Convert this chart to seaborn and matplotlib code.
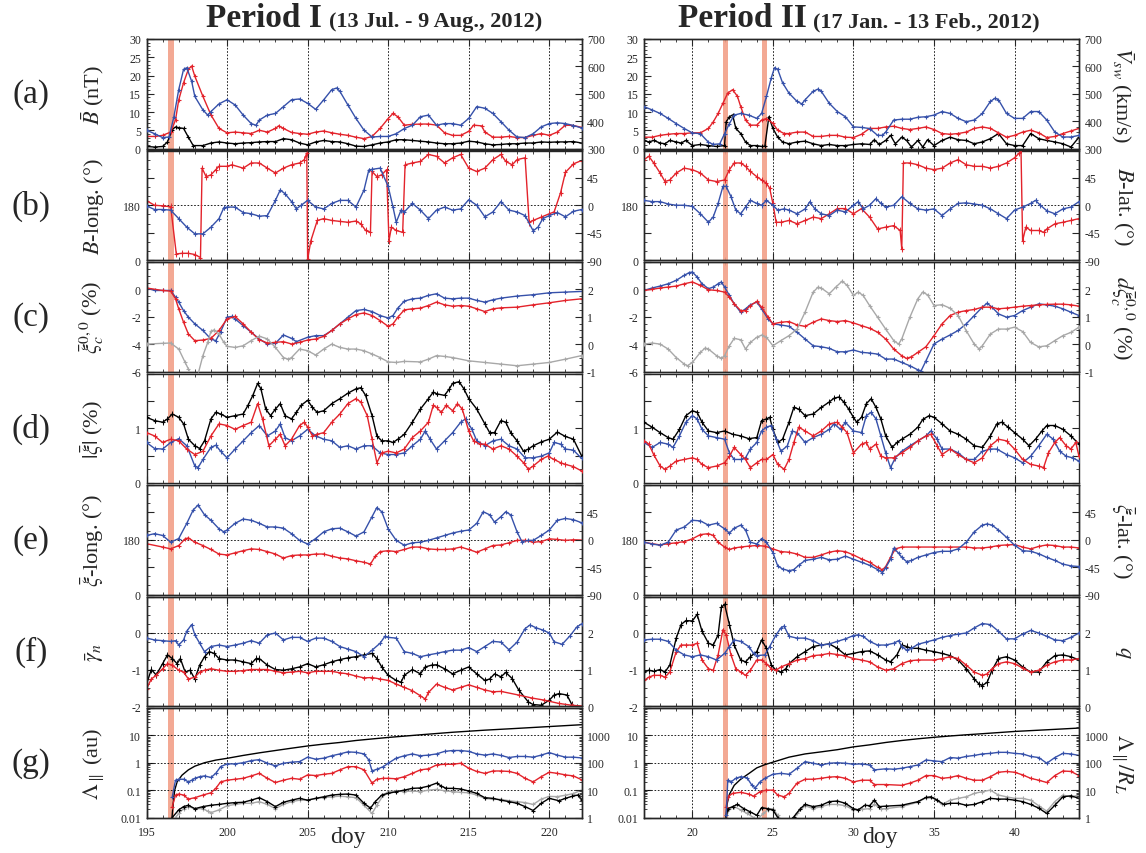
import matplotlib
matplotlib.use("Agg")
import matplotlib.pyplot as plt
import seaborn as sns
from matplotlib.ticker import (MultipleLocator, FixedLocator, FuncFormatter,
                               LogLocator, NullFormatter)

# ===================== DATA : Period I (doy 195-222, 2012) =====================
P1_a_vsw = [(195,367),(195.5,354),(196,340),(196.4,342),(196.7,416),(197,515),(197.3,589),(197.5,595),(197.8,546),(198,490),(198.5,441),(198.8,422),(199,435),(199.5,463),(200,478),(200.5,459),(201,422),(201.5,391),(201.8,385),(202,404),(202.5,422),(203,428),(203.5,453),(204,478),(204.5,481),(205,465),(205.5,443),(206,478),(206.5,515),(206.8,521),(207,509),(207.5,459),(208,410),(208.5,367),(209,342),(209.5,344),(210,344),(210.5,354),(211,373),(211.5,385),(212,416),(212.5,422),(213,385),(213.5,391),(214,391),(214.5,385),(215,410),(215.5,453),(216,447),(216.5,428),(217,398),(217.5,367),(218,342),(218.5,340),(219,354),(219.5,379),(220,391),(220.5,394),(221,391),(221.5,384),(222,375)]
P1_a_B = [(195,3.3),(195.5,3.3),(196,3.6),(196.5,4.5),(196.8,7.8),(197,13.3),(197.3,18),(197.6,21.7),(197.8,22.6),(198,19.8),(198.5,14.3),(199,9.2),(199.5,5.5),(200,4.3),(200.5,4.5),(201,4.3),(201.5,4.1),(202,5.0),(202.5,4.5),(203,5.5),(203.2,6.2),(203.5,5.5),(204,4.4),(204.5,4.1),(205,3.9),(205.5,4.5),(206,4.8),(206.5,4.3),(207,3.9),(207.5,3.6),(208,3.1),(208.5,2.7),(209,3.3),(209.5,5.5),(210,8.2),(210.3,9.6),(210.6,8.7),(211,6.4),(211.5,6.6),(212,6.7),(212.5,6.7),(213,6.4),(213.5,4.3),(214,3.6),(214.5,3.6),(215,4.7),(215.3,6.4),(215.8,6.2),(216,4.5),(216.5,3.1),(217,3.1),(217.5,3.3),(218,3.0),(218.5,3.0),(219,3.6),(219.5,4.1),(220,3.6),(220.5,4.5),(221,6.4),(221.5,6.3),(222,5.8)]
P1_a_dB = [(195,0.55),(195.5,0.4),(196,0.55),(196.3,1.8),(196.6,5.2),(196.8,5.9),(197,5.7),(197.3,5.5),(197.6,3.1),(197.9,0.8),(198.5,0.8),(199,1.5),(199.5,1.8),(200,1.5),(200.5,1.3),(201,1.5),(201.5,1.6),(202,1.8),(202.5,1.9),(203,1.9),(203.5,2.7),(204,2.4),(204.5,1.5),(205,1.0),(205.5,1.8),(206,2.2),(206.5,1.9),(207,1.8),(207.5,1.3),(208,0.65),(208.5,0.55),(209,1.0),(209.5,1.5),(210,1.8),(210.5,2.4),(211,2.4),(211.5,2.2),(212,2.0),(212.5,1.8),(213,1.5),(213.5,1.3),(214,1.3),(214.5,1.5),(215,2.0),(215.5,1.8),(216,1.3),(216.5,1.0),(217,1.1),(217.5,1.3),(218,1.3),(218.5,1.5),(219,1.5),(219.5,1.8),(220,1.7),(220.5,1.8),(221,1.8),(221.5,1.9),(222,1.5)]
P1_b_long = [(195,195),(195.5,180),(196,178),(196.5,175),(196.85,20),(197.2,22),(197.6,22),(198.0,18),(198.35,8),(198.45,302),(198.7,274),(199,280),(199.3,297),(199.5,308),(200,308),(200.3,313),(201,302),(201.5,319),(202,319),(202.5,302),(203,286),(203.5,302),(204,313),(204.5,319),(204.8,330),(204.95,352),(205.0,2),(205.2,63),(205.6,130),(206,136),(206.5,130),(207,127),(207.5,124),(208,128),(208.3,119),(208.6,97),(208.9,91),(209.0,291),(209.3,274),(209.6,280),(209.9,297),(210.05,63),(210.2,108),(210.5,97),(210.9,91),(211.05,313),(211.5,319),(212,324),(212.5,347),(213,341),(213.5,319),(214,336),(214.5,347),(215,302),(215.5,291),(216,302),(216.5,330),(217,347),(217.3,324),(217.7,313),(218,330),(218.5,336),(218.75,124),(219,130),(219.5,141),(220,152),(220.3,158),(220.7,221),(221,288),(221.5,316),(222,327)]
P1_b_lat = [(195,-1),(195.5,-7),(196,-7),(196.5,-8),(197,-22),(197.5,-36),(198,-47),(198.5,-47),(199,-36),(199.5,-22),(199.8,-4),(200,-3),(200.5,-3),(201,-12),(201.5,-14),(202,-18),(202.5,-17),(203,8),(203.3,25),(203.6,19),(204,6),(204.3,-6),(204.6,0),(205,8),(205.5,-3),(206,-6),(206.5,3),(207,8),(207.5,8),(208,-3),(208.5,25),(208.8,58),(209,59),(209.5,61),(210,31),(210.3,-3),(210.5,-28),(210.8,-8),(211,-11),(211.5,3),(212,-8),(212.5,-22),(213,-8),(213.5,-3),(214,-8),(214.5,-6),(215,9),(215.5,0),(216,-19),(216.5,-11),(217,6),(217.5,-8),(218,-11),(218.5,-17),(219,-42),(219.3,-36),(219.6,-22),(220,-17),(220.5,-12),(221,-19),(221.5,-10),(222,-7)]
P1_c_blue = [(195,0.10),(195.5,-0.08),(196,-0.08),(196.5,-0.08),(196.8,-0.57),(197,-0.93),(197.3,-1.55),(197.6,-2.03),(198,-2.52),(198.5,-3.0),(199,-3.63),(199.3,-3.75),(199.6,-3.1),(200,-2.03),(200.3,-1.98),(200.5,-2.16),(201,-2.65),(201.5,-3.13),(202,-3.63),(202.5,-3.99),(203,-3.94),(203.5,-3.33),(204,-3.58),(204.3,-3.82),(205,-3.5),(205.5,-3.38),(206,-3.38),(206.5,-3.0),(207,-2.52),(207.5,-2.03),(208,-1.55),(208.5,-1.47),(209,-1.62),(209.5,-1.91),(210,-2.09),(210.3,-1.91),(210.6,-1.37),(211,-0.86),(211.5,-0.69),(212,-0.64),(212.5,-0.44),(213,-0.32),(213.5,-0.64),(214,-0.69),(214.5,-0.64),(215,-0.64),(215.5,-0.81),(216,-0.93),(216.5,-0.76),(217,-0.64),(218,-0.49),(219,-0.39),(220,-0.25),(221,-0.20),(222,-0.15)]
P1_c_red = [(195,0.10),(196,-0.08),(196.5,-0.13),(196.8,-0.69),(197,-1.42),(197.3,-2.40),(197.6,-3.26),(198,-3.75),(198.5,-3.70),(199,-3.58),(199.5,-3.0),(200,-2.16),(200.5,-1.98),(201,-2.52),(201.5,-3.13),(202,-3.67),(202.5,-3.92),(203,-3.87),(203.5,-3.82),(204,-3.99),(204.5,-3.87),(205,-3.70),(205.5,-3.63),(206,-3.43),(206.5,-3.0),(207,-2.52),(207.5,-2.16),(208,-1.84),(208.5,-1.72),(209,-1.91),(209.5,-2.28),(210,-2.70),(210.3,-2.52),(210.6,-2.03),(211,-1.50),(211.5,-1.42),(212,-1.37),(212.5,-1.18),(213,-0.93),(213.5,-1.13),(214,-1.23),(214.5,-1.18),(215,-1.23),(215.5,-1.42),(216,-1.62),(216.5,-1.42),(217,-1.35),(218,-1.30),(219,-1.13),(220,-0.98),(221,-0.81),(222,-0.69)]
P1_c_grey = [(195,0.0),(196,0.03),(196.5,0.04),(197,-0.18),(197.4,-0.67),(197.6,-0.91),(197.8,-1.2),(198.2,-1.1),(198.5,-0.42),(198.8,0.06),(199,0.47),(199.2,0.52),(199.5,0.37),(199.8,0.06),(200,-0.08),(200.5,-0.12),(201,-0.06),(201.5,0.13),(202,0.29),(202.5,0.19),(203,-0.12),(203.5,-0.49),(203.8,-0.55),(204,-0.49),(204.5,-0.18),(205,-0.24),(205.5,-0.40),(206,-0.18),(206.5,0.0),(207,-0.12),(207.5,-0.18),(208,-0.18),(208.5,-0.24),(209,-0.36),(209.5,-0.49),(210,-0.65),(210.5,-0.67),(211,-0.63),(212,-0.65),(212.5,-0.55),(213,-0.42),(213.5,-0.45),(214,-0.49),(215,-0.61),(216,-0.67),(217,-0.73),(218,-0.79),(219,-0.73),(220,-0.67),(221,-0.55),(222,-0.42)]
P1_d_black = [(195,1.20),(195.5,1.14),(196,1.11),(196.3,1.17),(196.6,1.26),(197,1.20),(197.3,1.08),(197.6,0.80),(198,0.68),(198.3,0.63),(198.6,0.77),(199,1.17),(199.3,1.29),(199.6,1.26),(200,1.20),(200.5,1.23),(201,1.26),(201.3,1.42),(201.6,1.60),(201.9,1.82),(202.1,1.72),(202.4,1.35),(202.7,1.23),(203,1.35),(203.3,1.45),(203.6,1.23),(204,1.17),(204.3,1.29),(204.6,1.42),(205,1.51),(205.3,1.38),(205.6,1.29),(206,1.32),(206.5,1.45),(207,1.54),(207.5,1.64),(208,1.72),(208.3,1.74),(208.6,1.60),(209,1.23),(209.3,0.86),(209.6,0.77),(210,0.77),(210.3,0.74),(210.6,0.80),(211,0.89),(211.5,1.11),(212,1.35),(212.5,1.54),(212.8,1.66),(213,1.63),(213.5,1.60),(213.8,1.72),(214,1.82),(214.4,1.85),(214.7,1.72),(215,1.54),(215.5,1.35),(216,1.08),(216.3,0.92),(216.6,0.92),(217,1.14),(217.3,1.11),(217.6,0.92),(218,0.77),(218.4,0.58),(218.7,0.62),(219,0.68),(219.5,0.75),(220,0.80),(220.5,0.93),(221,0.85),(221.5,0.80),(222,0.50)]
P1_d_red = [(195,0.92),(195.5,0.86),(196,0.74),(196.5,0.80),(197,0.77),(197.5,0.62),(198,0.52),(198.5,0.58),(199,0.86),(199.5,1.08),(200,1.05),(200.5,0.98),(201,1.05),(201.5,1.11),(201.9,1.45),(202.2,1.17),(202.6,0.68),(203,0.80),(203.3,0.89),(203.6,0.68),(204,0.80),(204.5,1.05),(204.8,1.11),(205,1.02),(205.3,0.86),(205.6,0.89),(206,0.92),(206.5,1.11),(207,1.26),(207.5,1.45),(208,1.54),(208.3,1.48),(208.7,1.23),(209,0.80),(209.3,0.37),(209.6,0.55),(210,0.58),(210.5,0.55),(211,0.62),(211.5,0.83),(212,0.95),(212.5,1.11),(212.8,1.42),(213,1.38),(213.3,1.29),(213.6,1.42),(214,1.32),(214.3,1.45),(214.6,1.35),(215,0.95),(215.3,0.77),(215.7,0.71),(216,0.71),(216.5,0.62),(217,0.68),(217.5,0.62),(218,0.49),(218.4,0.37),(218.7,0.25),(219,0.31),(219.5,0.43),(219.9,0.49),(220.3,0.43),(220.7,0.37),(221,0.34),(221.5,0.30),(222,0.22)]
P1_d_blue = [(195,0.74),(195.5,0.63),(196,0.62),(196.5,0.74),(197,0.81),(197.5,0.68),(198,0.31),(198.2,0.28),(198.5,0.43),(199,0.65),(199.3,0.69),(199.6,0.58),(200,0.46),(200.5,0.62),(201,0.77),(201.5,0.92),(202,1.05),(202.5,0.86),(203,0.95),(203.3,1.08),(203.6,0.83),(204,0.77),(204.5,0.86),(205,0.98),(205.5,0.86),(206,0.80),(206.5,0.77),(207,0.65),(207.5,0.68),(208,0.62),(208.5,0.68),(209,0.68),(209.5,0.55),(210,0.52),(210.5,0.52),(211,0.55),(211.5,0.68),(212,0.80),(212.3,0.95),(212.6,0.80),(213,0.62),(213.5,0.77),(214,0.92),(214.5,1.11),(214.8,1.17),(215.2,0.98),(215.5,0.77),(216,0.68),(216.5,0.77),(217,0.80),(217.5,0.68),(218,0.62),(218.5,0.46),(219,0.46),(219.5,0.49),(220,0.55),(220.3,0.74),(220.7,0.71),(221,0.62),(221.5,0.60),(222,0.45)]
P1_e_long = [(195,167),(196,156),(196.5,150),(197,161),(197.4,183),(197.6,186),(198,172),(198.5,161),(199,148),(199.5,133),(200,130),(200.5,137),(201,144),(201.5,150),(202,148),(202.5,141),(203,133),(203.5,120),(204,128),(204.5,130),(205,130),(205.5,133),(206,133),(206.5,126),(207,120),(207.5,117),(208,111),(208.5,106),(208.9,100),(209.2,126),(209.5,141),(210,144),(210.5,141),(211,148),(211.5,156),(212,156),(212.5,150),(213,148),(213.5,148),(214,150),(214.5,156),(215,148),(215.5,139),(216,150),(216.5,161),(217,163),(217.5,170),(218,178),(218.5,178),(219,172),(219.5,174),(220,183),(220.5,181),(221,178),(221.5,180),(222,179)]
P1_e_lat = [(195,7),(195.5,10),(196,7),(196.5,-4),(197,2),(197.5,27),(197.9,49),(198.2,57),(198.6,41),(199,32),(199.5,18),(199.8,13),(200,16),(200.5,27),(201,34),(201.5,32),(202,27),(202.5,21),(203,21),(203.5,19),(204,10),(204.5,-1),(205,-7),(205.5,2),(206,13),(206.5,18),(207,19),(207.5,13),(208,6),(208.5,13),(209,38),(209.3,53),(209.6,46),(210,18),(210.5,-1),(211,-9),(211.5,-5),(212,-4),(212.5,-1),(213,3),(213.5,7),(214,11),(214.5,14),(215,16),(215.5,27),(215.9,46),(216.3,41),(216.6,29),(217,38),(217.3,46),(217.6,41),(218,13),(218.3,-3),(218.7,-1),(219,-1),(219.5,7),(220,16),(220.5,32),(221,35),(221.5,33),(222,28)]
P1_f_black = [(195,-1.4),(195.3,-1.0),(195.6,-1.15),(196,-0.84),(196.3,-0.60),(196.6,-0.70),(196.9,-0.84),(197.1,-0.70),(197.4,-1.07),(197.7,-1.02),(198,-1.26),(198.3,-0.88),(198.6,-0.65),(198.9,-0.51),(199.2,-0.56),(199.5,-0.70),(200,-0.74),(200.5,-0.74),(201,-0.79),(201.5,-0.84),(201.8,-0.70),(202,-0.70),(202.5,-0.88),(203,-1.0),(203.5,-1.02),(204,-0.98),(204.5,-0.93),(205,-0.84),(205.5,-0.93),(206,-0.87),(206.5,-0.79),(207,-0.73),(207.5,-0.68),(208,-0.65),(208.5,-0.60),(209,-0.56),(209.3,-0.70),(209.6,-0.93),(210,-1.16),(210.5,-1.30),(210.8,-1.35),(211,-1.16),(211.5,-1.0),(212,-1.12),(212.3,-0.93),(212.7,-0.88),(213,-0.87),(213.5,-0.98),(214,-1.12),(214.5,-1.02),(215,-0.93),(215.5,-1.12),(216,-1.30),(216.3,-1.26),(216.6,-1.12),(217,-1.2),(217.3,-1.08),(217.7,-1.25),(218.1,-1.56),(218.7,-1.89),(219,-1.96),(219.5,-1.98),(220,-1.84),(220.3,-1.70),(220.6,-1.66),(221.1,-1.70),(221.4,-1.96),(221.7,-2.03),(222,-2.05)]
P1_f_red = [(195,-1.53),(195.3,-1.26),(195.6,-1.16),(196,-0.98),(196.3,-0.84),(196.6,-0.88),(197,-1.02),(197.3,-1.07),(197.6,-1.26),(198,-1.21),(198.3,-1.07),(198.6,-1.02),(199,-0.98),(199.5,-1.02),(200,-1.05),(200.5,-1.05),(201,-1.03),(201.5,-1.0),(202,-1.0),(202.5,-1.0),(203,-1.05),(203.5,-1.09),(204,-1.07),(204.5,-1.05),(205,-1.09),(205.5,-1.05),(206,-1.05),(206.5,-1.05),(207,-1.09),(207.5,-1.12),(208,-1.18),(208.5,-1.23),(209,-1.22),(209.5,-1.26),(210,-1.30),(210.5,-1.40),(211,-1.49),(211.5,-1.58),(212,-1.72),(212.3,-1.81),(212.5,-1.63),(213,-1.40),(213.5,-1.49),(214,-1.56),(214.5,-1.49),(215,-1.42),(215.5,-1.49),(216,-1.56),(216.5,-1.61),(217,-1.6),(218.1,-1.70),(218.9,-1.78),(219.7,-1.84),(220.6,-1.93),(221.4,-1.98),(222,-2.0)]
P1_f_q = [(195,1.86),(195.5,1.81),(196,1.79),(196.5,1.77),(196.8,1.79),(197,1.67),(197.3,1.81),(197.5,2.05),(197.8,2.23),(198,1.95),(198.3,1.72),(198.6,1.49),(199,1.63),(199.5,1.67),(200,1.63),(200.5,1.67),(201,1.72),(201.5,1.79),(202,1.72),(202.5,1.95),(203,2.0),(203.5,1.81),(204,1.88),(204.5,1.88),(205,1.77),(205.5,1.86),(206,1.86),(206.5,1.77),(207,1.63),(207.5,1.56),(208,1.49),(208.5,1.35),(209,1.53),(209.5,1.72),(209.8,1.91),(210,1.88),(210.5,1.86),(211,1.49),(211.5,1.44),(212,1.35),(212.5,1.40),(213,1.44),(213.5,1.49),(214,1.53),(214.5,1.53),(215,1.60),(215.5,1.49),(216,1.63),(216.5,1.77),(217,1.75),(217.5,1.54),(218,1.75),(218.5,2.12),(218.8,2.22),(219.2,2.14),(219.6,2.08),(220,2.0),(220.3,1.76),(220.8,1.69),(221.3,1.93),(221.7,2.16),(222,2.25)]
P1_g_curve = [(196.55,0.006),(196.65,0.03),(196.75,0.1),(196.9,0.2),(197.2,0.35),(197.6,0.55),(198.0,0.75),(198.6,1.0),(199.3,1.25),(200,1.45),(201,1.85),(202,2.3),(203,2.8),(204,3.4),(205,4.1),(206,4.8),(207,5.5),(208,6.5),(209,7.4),(210,8.4),(212,10.5),(214,13),(216,15.5),(218,18),(220,21),(222,24.5)]
P1_g_blue = [(196.6,0.057),(196.8,0.23),(197,0.25),(197.3,0.25),(197.6,0.2),(197.8,0.23),(198,0.27),(198.3,0.31),(198.6,0.33),(199,0.29),(199.3,0.41),(199.6,0.72),(200,0.91),(200.5,0.91),(201,1.0),(201.5,1.2),(202,1.3),(202.5,0.96),(203,0.77),(203.5,0.96),(204,1.05),(204.5,1.1),(205,1.6),(205.5,1.35),(206,1.47),(206.5,1.8),(207,2.1),(207.5,2.5),(208,2.4),(208.5,2.1),(208.8,1.26),(209,0.5),(209.3,0.58),(209.7,0.72),(210,0.96),(210.5,1.47),(211,1.8),(211.5,2.1),(212,1.8),(212.5,1.9),(213,2.1),(213.5,2.6),(214,2.8),(214.5,2.8),(215,2.6),(215.5,2.1),(216,1.9),(216.5,2.1),(217,1.85),(217.5,1.55),(218,1.7),(218.5,1.7),(219,1.6),(219.5,1.9),(220,2.35),(220.5,1.9),(221,1.6),(221.5,1.6),(222,1.5)]
P1_g_red = [(196.6,0.025),(196.8,0.066),(197,0.072),(197.3,0.066),(197.6,0.047),(198,0.053),(198.5,0.066),(199,0.08),(199.3,0.116),(199.6,0.2),(200,0.23),(200.5,0.25),(201,0.27),(201.5,0.33),(202,0.41),(202.5,0.27),(203,0.19),(203.5,0.23),(204,0.27),(204.5,0.25),(205,0.36),(205.5,0.34),(206,0.38),(206.5,0.41),(207,0.55),(207.5,0.72),(208,0.72),(208.5,0.55),(209,0.18),(209.3,0.25),(209.7,0.27),(210,0.27),(210.5,0.26),(211,0.31),(211.5,0.41),(212,0.55),(212.5,0.6),(213,0.83),(213.5,0.88),(214,0.88),(214.5,0.96),(215,0.63),(215.5,0.48),(216,0.41),(216.5,0.5),(217,0.5),(217.5,0.48),(218,0.41),(218.5,0.27),(219,0.2),(219.5,0.31),(220,0.45),(220.5,0.41),(221,0.36),(221.5,0.33),(222,0.24)]
P1_g_black = [(196.6,0.01),(197,0.019),(197.3,0.025),(197.6,0.028),(198,0.021),(198.5,0.025),(199,0.028),(199.5,0.03),(200,0.033),(200.5,0.035),(201,0.036),(201.5,0.043),(202,0.053),(202.5,0.038),(203,0.025),(203.5,0.036),(204,0.043),(204.5,0.05),(205,0.043),(205.5,0.05),(206,0.057),(206.5,0.066),(207,0.07),(207.5,0.072),(208,0.066),(208.5,0.033),(208.9,0.022),(209.2,0.038),(209.6,0.066),(210,0.076),(210.5,0.088),(211,0.1),(211.5,0.116),(212,0.12),(212.5,0.14),(213,0.18),(213.3,0.14),(213.6,0.116),(214,0.116),(214.5,0.11),(215,0.093),(215.5,0.076),(216,0.053),(216.5,0.05),(217,0.043),(217.5,0.038),(218,0.033),(218.5,0.025),(219,0.018),(219.5,0.033),(220,0.05),(220.6,0.041),(221,0.05),(221.4,0.059),(221.8,0.067),(222,0.044)]
P1_g_grey = [(196.8,0.01),(197,0.014),(197.3,0.021),(197.6,0.025),(198,0.021),(198.5,0.021),(198.8,0.017),(199,0.015),(199.5,0.019),(200,0.027),(200.5,0.03),(201,0.033),(201.5,0.033),(202,0.038),(202.5,0.03),(203,0.021),(203.5,0.03),(204,0.038),(204.5,0.043),(205,0.043),(205.5,0.05),(206,0.053),(206.5,0.057),(207,0.06),(207.5,0.057),(208,0.053),(208.5,0.028),(209,0.014),(209.3,0.028),(209.7,0.066),(210,0.088),(210.5,0.093),(211,0.088),(211.5,0.093),(212,0.088),(212.5,0.1),(213,0.106),(213.5,0.095),(214,0.088),(214.5,0.083),(215,0.08),(215.5,0.066),(216,0.05),(216.5,0.046),(217,0.046),(217.5,0.041),(218,0.038),(218.5,0.035),(219,0.03),(219.5,0.047),(220,0.059),(220.5,0.058),(221,0.065),(221.5,0.075),(222,0.1)]

# ===================== DATA : Period II (doy 17-44, 2012) =====================
P2_a_vsw = [(17,453),(17.5,441),(18,428),(18.5,410),(19,391),(19.5,373),(20,357),(20.5,354),(21,323),(21.3,315),(21.7,317),(22,354),(22.3,391),(22.6,422),(23,428),(23.5,422),(24,410),(24.3,428),(24.6,490),(24.9,558),(25.1,595),(25.3,589),(25.6,540),(26,502),(26.5,472),(26.8,463),(27,478),(27.5,509),(27.8,517),(28,509),(28.5,465),(29,435),(29.5,416),(30,379),(30.5,377),(31,373),(31.5,348),(31.8,348),(32,360),(32.5,404),(33,407),(33.5,407),(34,414),(34.5,416),(35,422),(35.5,435),(36,428),(36.5,410),(37,398),(37.5,404),(38,428),(38.5,472),(38.8,484),(39,478),(39.5,428),(40,410),(40.5,410),(41,435),(41.5,435),(42,404),(42.5,360),(43,342),(43.5,342),(44,348)]
P2_a_B = [(17,3.1),(17.5,3.1),(18,3.6),(18.5,3.9),(19,4.1),(19.5,4.1),(20,4.3),(20.5,4.3),(21,5.5),(21.3,7.3),(21.6,9.6),(21.9,12.4),(22.2,15.2),(22.5,16.1),(22.8,14.3),(23,11.5),(23.3,7.8),(23.6,6.4),(24,6.4),(24.3,7.8),(24.6,8.2),(25,6.9),(25.3,5.0),(25.7,4.1),(26,4.1),(26.5,4.5),(27,4.5),(27.5,3.3),(28,3.3),(28.5,3.6),(29,3.6),(29.5,3.1),(30,3.0),(30.5,3.9),(31,5.5),(31.5,5.5),(32,5.9),(32.5,6.1),(33,5.5),(33.5,5.2),(34,5.5),(34.5,5.9),(35,5.2),(35.5,4.1),(36,3.9),(36.5,4.1),(37,4.5),(37.5,5.5),(38,5.9),(38.5,5.5),(39,4.3),(39.5,3.1),(40,3.6),(40.5,4.5),(41,5.0),(41.5,4.3),(42,3.0),(42.5,3.3),(43,4.1),(43.5,4.8),(44,5.5)]
P2_a_dB = [(17,2.2),(17.3,1.8),(17.6,2.2),(18,1.5),(18.3,1.3),(18.6,2.2),(19,1.8),(19.3,1.5),(19.6,2.2),(20,0.8),(20.5,1.1),(21,0.8),(21.5,0.55),(22,0.8),(22.1,7.3),(22.3,8.7),(22.5,9.2),(22.7,5.5),(23,4.1),(23.3,1.8),(23.6,0.8),(24,0.8),(24.3,0.55),(24.5,0.6),(24.75,8.7),(25,5.5),(25.3,3.1),(25.6,1.8),(26,1.3),(26.5,1.8),(27,2.0),(27.5,1.3),(28,0.8),(28.5,1.1),(29,0.8),(29.5,0.8),(30,1.1),(30.5,1.3),(31,1.1),(31.3,2.4),(31.6,1.1),(32,2.2),(32.3,3.6),(32.6,1.3),(33,3.1),(33.3,2.2),(33.6,0.4),(34,2.2),(34.3,0.4),(34.6,2.4),(35,0.8),(35.5,2.2),(36,3.1),(36.5,2.4),(37,2.2),(37.5,1.3),(38,1.8),(38.5,2.7),(39,4.1),(39.5,1.3),(40,0.8),(40.5,0.8),(41,4.1),(41.5,2.7),(42,2.2),(42.5,1.8),(43,1.3),(43.5,0.4),(44,3.1)]
P2_b_long = [(17,330),(17.3,341),(17.6,319),(18,286),(18.3,258),(18.6,263),(19,286),(19.5,302),(20,297),(20.5,286),(21,263),(21.5,258),(22,263),(22.3,297),(22.6,319),(23,319),(23.3,308),(23.6,291),(24,274),(24.3,263),(24.6,252),(24.8,236),(25,186),(25.2,124),(25.5,124),(26,130),(26.5,119),(27,130),(27.5,141),(28,136),(28.5,152),(29,169),(29.5,169),(30,152),(30.5,169),(31,141),(31.5,102),(32,108),(32.5,113),(32.9,97),(33.0,36),(33.1,319),(33.5,319),(34,313),(34.5,302),(35,297),(35.5,302),(36,319),(36.5,330),(37,313),(37.5,308),(38,308),(38.5,302),(39,308),(39.5,319),(40,336),(40.3,352),(40.4,362),(40.5,63),(40.7,108),(41,97),(41.5,97),(41.8,91),(42,102),(42.5,119),(43,124),(43.5,130),(44,136)]
P2_b_lat = [(17,8),(17.5,6),(18,6),(18.5,2),(19,0),(19.5,0),(20,-2),(20.5,-14),(21,-28),(21.3,-19),(21.6,3),(21.9,31),(22.1,31),(22.4,14),(22.7,-8),(23,-14),(23.3,-3),(23.6,8),(24,3),(24.3,0),(24.6,8),(25,0),(25.3,-8),(25.7,-6),(26,-8),(26.5,-14),(27,-6),(27.3,6),(27.6,-6),(28,-14),(28.5,-17),(29,-8),(29.5,-11),(30,0),(30.3,6),(30.6,-6),(31,0),(31.4,11),(31.7,3),(32,-3),(32.5,0),(33,14),(33.5,3),(34,-6),(34.5,-8),(35,-6),(35.5,-17),(36,-6),(36.5,3),(37,4),(37.5,2),(38,0),(38.5,-6),(39,-14),(39.5,-22),(40,-8),(40.5,-3),(41,3),(41.3,8),(41.6,0),(42,-9),(42.5,-14),(43,-6),(43.5,-3),(44,6)]
P2_c_blue = [(17,-0.08),(17.5,0.10),(18,0.24),(18.5,0.41),(19,0.66),(19.5,1.03),(19.8,1.22),(20,1.27),(20.3,0.90),(20.6,0.41),(21,0.05),(21.3,0.17),(21.6,0.41),(21.8,0.54),(22,0.17),(22.3,-0.44),(22.6,-1.06),(23,-1.67),(23.3,-1.42),(23.6,-1.13),(24,-0.93),(24.3,-1.42),(24.7,-2.16),(25,-2.52),(25.5,-2.60),(26,-2.70),(26.5,-3.13),(27,-3.63),(27.5,-4.12),(28,-4.19),(28.5,-4.31),(29,-4.56),(29.5,-4.56),(30,-4.43),(30.5,-4.60),(31,-4.65),(31.5,-4.73),(32,-5.09),(32.5,-5.09),(33,-5.34),(33.5,-5.58),(34,-5.88),(34.2,-5.95),(34.5,-5.22),(35,-3.99),(35.5,-3.63),(36,-3.33),(36.5,-3.0),(37,-2.52),(37.5,-1.91),(38,-1.30),(38.3,-1.01),(38.6,-1.30),(39,-1.79),(39.5,-2.03),(40,-1.91),(40.5,-1.55),(41,-1.30),(41.5,-1.06),(42,-1.13),(42.5,-1.23),(43,-1.42),(43.5,-1.67),(44,-1.91)]
P2_c_red = [(17,-0.08),(17.5,0.0),(18,0.10),(18.5,0.17),(19,0.24),(19.5,0.41),(20,0.54),(20.5,0.29),(21,-0.03),(21.5,-0.08),(22,-0.20),(22.3,-0.57),(22.6,-1.06),(23,-1.55),(23.3,-1.55),(23.6,-1.18),(24,-0.88),(24.3,-1.30),(24.7,-2.03),(25,-2.52),(25.5,-2.40),(26,-2.35),(26.5,-2.60),(27,-2.70),(27.5,-2.40),(28,-2.16),(28.5,-2.28),(29,-2.35),(29.5,-2.28),(30,-2.45),(30.5,-2.65),(31,-2.84),(31.5,-3.13),(32,-3.63),(32.5,-4.36),(33,-4.85),(33.3,-5.05),(33.6,-4.92),(34,-4.60),(34.5,-4.19),(35,-3.38),(35.5,-2.52),(36,-1.91),(36.5,-1.67),(37,-1.55),(37.5,-1.47),(38,-1.30),(38.5,-1.30),(39,-1.42),(39.5,-1.37),(40,-1.30),(40.5,-1.23),(41,-1.18),(41.5,-1.13),(42,-1.10),(42.5,-1.08),(43,-1.08),(43.5,-1.13),(44,-1.23)]
P2_c_grey = [(17,0.0),(17.5,0.04),(18,0.0),(18.5,-0.18),(19,-0.49),(19.5,-0.73),(19.7,-0.79),(20,-0.67),(20.5,-0.30),(20.8,-0.14),(21,-0.18),(21.5,-0.42),(21.8,-0.52),(22,-0.42),(22.3,-0.06),(22.6,0.21),(23,0.16),(23.3,-0.18),(23.6,0.06),(24,0.25),(24.3,0.33),(24.6,0.25),(25,-0.06),(25.5,0.13),(26,0.31),(26.5,0.55),(27,1.17),(27.5,1.90),(27.8,2.08),(28,2.05),(28.5,1.84),(28.9,2.08),(29.3,2.30),(29.6,2.15),(30,1.78),(30.3,1.90),(30.6,1.78),(31,1.41),(31.5,0.98),(32,0.55),(32.5,0.13),(32.8,0.0),(33,0.19),(33.5,0.98),(34,1.66),(34.3,1.90),(34.6,1.80),(35,1.41),(35.5,1.44),(36,1.31),(36.5,1.04),(37,0.49),(37.5,0.0),(37.8,-0.18),(38,-0.06),(38.5,0.37),(39,0.55),(39.5,0.55),(40,0.62),(40.5,0.46),(41,0.06),(41.5,-0.10),(42,-0.06),(42.5,0.13),(43,0.31),(43.5,0.43),(44,0.62)]
P2_d_black = [(17,1.11),(17.5,1.02),(18,0.92),(18.5,0.83),(18.8,0.80),(19.2,0.98),(19.6,1.23),(20,1.32),(20.3,1.29),(20.6,1.11),(21,0.95),(21.5,0.92),(22,0.95),(22.5,0.89),(23,0.86),(23.5,0.81),(24,0.83),(24.3,1.14),(24.6,1.17),(24.8,1.20),(25,0.98),(25.3,0.74),(25.6,0.80),(26,1.11),(26.3,1.38),(26.6,1.35),(27,1.23),(27.5,1.26),(28,1.38),(28.5,1.48),(28.8,1.55),(29.1,1.57),(29.4,1.48),(29.7,1.35),(30,1.20),(30.2,1.11),(30.5,1.20),(30.8,1.45),(31.1,1.54),(31.4,1.38),(31.7,1.17),(32,0.86),(32.4,0.65),(32.7,0.74),(33,0.80),(33.5,0.89),(34,1.02),(34.3,1.16),(34.7,1.23),(35,1.20),(35.5,1.08),(36,0.95),(36.5,0.89),(37,0.80),(37.5,0.68),(38,0.65),(38.5,0.86),(38.9,1.08),(39.2,1.11),(39.6,1.02),(40,0.92),(40.5,0.80),(40.9,0.68),(41.3,0.80),(41.7,0.95),(42,1.05),(42.5,1.05),(43,0.98),(43.5,0.86),(44,0.71)]
P2_d_blue = [(17,0.74),(17.5,0.65),(18,0.74),(18.5,0.71),(18.8,0.65),(19.2,0.86),(19.6,1.11),(20,1.23),(20.3,1.17),(20.6,0.98),(21,0.86),(21.5,0.83),(22,0.80),(22.3,0.55),(22.6,0.43),(23,0.43),(23.3,0.46),(23.6,0.62),(24,0.74),(24.3,0.95),(24.6,1.02),(24.9,1.05),(25.2,0.80),(25.5,0.58),(25.9,0.68),(26.2,0.95),(26.5,0.92),(27,0.74),(27.5,0.83),(28,0.89),(28.5,0.98),(28.8,1.08),(29.2,0.98),(29.5,1.11),(30,0.95),(30.5,0.92),(30.8,1.23),(31.1,1.29),(31.4,1.17),(31.7,0.86),(32,0.55),(32.3,0.28),(32.6,0.46),(33,0.58),(33.5,0.68),(34,0.77),(34.5,0.86),(34.8,0.95),(35.2,0.80),(35.5,0.62),(36,0.62),(36.5,0.55),(37,0.43),(37.5,0.43),(38,0.58),(38.5,0.62),(38.9,0.62),(39.5,0.52),(40,0.46),(40.5,0.37),(41,0.49),(41.5,0.68),(42,0.89),(42.4,0.80),(42.8,0.58),(43.2,0.49),(43.6,0.46),(44,0.40)]
P2_d_red = [(17,0.77),(17.3,0.71),(17.6,0.52),(18,0.31),(18.3,0.25),(18.6,0.31),(19,0.40),(19.5,0.43),(20,0.46),(20.3,0.43),(20.6,0.34),(21,0.28),(21.5,0.31),(22,0.37),(22.3,0.49),(22.6,0.65),(23,0.52),(23.3,0.43),(23.6,0.28),(24,0.37),(24.3,0.43),(24.6,0.43),(25,0.52),(25.3,0.34),(25.7,0.25),(26,0.43),(26.3,0.74),(26.6,1.02),(27,0.95),(27.5,0.86),(28,0.95),(28.5,1.08),(29,1.11),(29.3,1.02),(29.6,0.92),(30,0.55),(30.5,0.71),(30.8,0.74),(31,0.62),(31.4,0.71),(31.7,0.49),(32,0.46),(32.5,0.46),(33,0.55),(33.5,0.65),(34,0.77),(34.5,0.86),(34.8,0.89),(35.2,0.68),(35.5,0.52),(36,0.62),(36.5,0.52),(37,0.43),(37.5,0.37),(38,0.46),(38.5,0.68),(39,0.80),(39.5,0.77),(40,0.62),(40.5,0.43),(41,0.34),(41.5,0.31),(41.8,0.28),(42.1,0.55),(42.5,0.74),(42.8,0.83),(43.2,0.68),(43.5,0.62),(43.8,0.74),(44,0.49)]
P2_e_long = [(17,172),(17.5,167),(18,163),(18.5,167),(19,170),(19.5,174),(20,183),(20.5,197),(21,200),(21.3,194),(21.6,172),(22,156),(22.3,148),(22.6,153),(23,156),(23.5,159),(24,161),(24.5,159),(25,150),(25.5,141),(26,139),(26.5,133),(27,122),(27.5,122),(28,130),(28.5,139),(29,144),(29.5,141),(30,130),(30.5,117),(31,106),(31.5,89),(31.8,81),(32,92),(32.3,122),(32.6,150),(33,156),(34,156),(35,156),(36,156),(37,156),(37.5,153),(38,153),(38.5,156),(39,161),(39.5,163),(40,164),(40.5,156),(41,150),(41.5,158),(42,163),(42.5,161),(43,156),(43.5,156),(44,153)]
P2_e_lat = [(17,-4),(17.5,-7),(18,-9),(18.5,-4),(19,16),(19.5,21),(20,32),(20.5,31),(21,24),(21.5,27),(22,18),(22.3,11),(22.6,19),(23,24),(23.3,16),(23.6,-4),(24,-7),(24.3,2),(24.6,-4),(25,-21),(25.3,-43),(25.6,-48),(26,-51),(26.3,-49),(26.6,-42),(27,-34),(27.5,-32),(28,-29),(28.5,-33),(29,-32),(29.5,-27),(30,-32),(30.5,-37),(31,-42),(31.5,-49),(31.8,-54),(32,-46),(32.3,-32),(32.5,-14),(32.8,-22),(33,-29),(33.3,-36),(33.6,-34),(34,-29),(34.5,-25),(35,-21),(35.5,-19),(36,-19),(36.5,-15),(37,-4),(37.5,13),(38,24),(38.3,26),(38.6,24),(39,16),(39.5,4),(40,-9),(40.5,-18),(41,-19),(41.5,-23),(42,-29),(42.5,-34),(43,-40),(43.5,-43),(44,-44)]
P2_f_black = [(17,-1.07),(17.3,-1.02),(17.6,-1.05),(18,-1.0),(18.3,-1.07),(18.6,-0.88),(19,-0.14),(19.3,0.23),(19.6,0.34),(20,0.33),(20.3,0.51),(20.6,0.05),(21,-0.28),(21.3,-0.33),(21.6,-0.05),(21.8,0.70),(22,0.79),(22.3,0.23),(22.6,-0.33),(23,-0.74),(23.3,-0.79),(23.6,-0.65),(24,-0.51),(24.3,-0.19),(24.6,-0.42),(24.9,-0.88),(25.2,-1.02),(25.5,-1.07),(25.8,-0.98),(26,-0.84),(26.5,-0.65),(27,-0.51),(27.5,-0.37),(28,-0.33),(28.5,-0.30),(29,-0.42),(29.5,-0.60),(30,-0.56),(30.5,-0.51),(31,-0.49),(31.5,-0.60),(32,-0.74),(32.3,-0.79),(32.7,-0.60),(33,-0.33),(33.3,-0.37),(33.6,-0.42),(34,-0.42),(34.5,-0.47),(35,-0.51),(35.5,-0.56),(36,-0.62),(36.5,-0.74),(37,-0.98),(37.5,-1.26),(37.8,-1.40),(38,-1.44),(38.3,-1.35),(38.6,-1.02),(39,-0.70),(39.5,-0.65),(40,-0.74),(40.5,-0.93),(41,-1.07),(41.5,-1.07),(42,-0.79),(42.5,-0.62),(43,-0.60),(43.5,-0.65),(44,-0.74)]
P2_f_red = [(17,-1.30),(17.3,-1.21),(17.6,-1.16),(18,-1.16),(18.3,-1.21),(18.6,-1.07),(19,-0.51),(19.3,-0.33),(19.6,-0.33),(20,-0.33),(20.3,-0.28),(20.6,-0.74),(21,-0.98),(21.3,-1.02),(21.6,-0.60),(21.9,0.09),(22.1,-0.05),(22.4,-0.60),(22.7,-0.98),(23,-1.07),(23.3,-1.16),(23.6,-1.02),(24,-0.74),(24.3,-0.74),(24.6,-0.84),(24.9,-0.98),(25.2,-1.02),(25.5,-0.93),(26,-0.84),(26.5,-0.74),(27,-0.70),(27.5,-0.62),(28,-0.60),(28.5,-0.56),(29,-0.59),(29.5,-0.63),(30,-0.70),(30.5,-0.74),(31,-0.79),(31.5,-0.93),(32,-1.02),(32.5,-0.98),(33,-0.84),(33.5,-0.76),(34,-0.74),(35,-0.74),(35.5,-0.70),(36,-0.65),(36.5,-0.70),(37,-0.88),(37.5,-1.07),(38,-1.16),(38.3,-1.12),(38.6,-0.98),(39,-0.84),(39.5,-0.79),(40,-0.84),(40.5,-0.96),(41,-1.07),(41.5,-1.02),(42,-0.88),(42.5,-0.79),(43,-0.74),(43.5,-0.74),(44,-0.70)]
P2_f_q = [(17,1.81),(17.5,1.83),(18,1.83),(18.5,1.77),(19,1.53),(19.5,1.40),(20,1.35),(20.5,1.40),(21,1.35),(21.5,1.26),(22,1.44),(22.3,1.63),(22.6,1.81),(23,1.77),(23.5,1.63),(23.8,1.44),(24,1.38),(24.5,1.40),(24.8,1.63),(25.2,1.95),(25.5,2.14),(25.7,2.19),(26,1.91),(26.5,1.86),(27,1.86),(27.5,1.79),(28,1.67),(28.5,1.70),(29,1.77),(29.5,1.84),(30,1.93),(30.3,1.95),(30.6,1.91),(31,1.77),(31.5,1.67),(32,1.67),(32.5,1.72),(32.8,1.79),(33,1.63),(33.3,1.53),(33.6,1.58),(34,1.69),(34.5,1.75),(35,1.81),(35.5,1.88),(36,1.93),(36.5,1.97),(37,2.0),(37.5,2.14),(38,2.26),(38.5,2.23),(39,2.05),(39.5,1.84),(40,1.84),(40.5,1.97),(41,2.07),(41.5,2.0),(42,1.91),(42.5,1.81),(43,1.79),(43.5,1.88),(44,2.0)]
P2_g_curve = [(22.05,0.006),(22.15,0.03),(22.3,0.07),(22.6,0.15),(23.0,0.25),(23.5,0.4),(24.0,0.65),(24.5,0.85),(25.0,1.05),(26,1.6),(27,2.1),(28,2.5),(29,3.0),(30,3.8),(31,4.5),(32,5.5),(33,6.5),(34,7.5),(35,8.5),(36,9.5),(37,10.5),(38,11.5),(40,13.9),(42,16),(44,18.5)]
P2_g_blue = [(22.1,0.012),(22.2,0.23),(22.4,0.2),(22.7,0.27),(23,0.31),(23.4,0.28),(23.7,0.15),(23.9,0.12),(24.2,0.2),(24.5,0.27),(25,0.38),(25.5,0.41),(26,0.38),(26.5,0.63),(27,1.1),(27.5,0.96),(28,0.83),(28.5,0.96),(29,1.0),(29.5,0.96),(30,0.88),(30.5,0.91),(31,0.83),(31.3,0.55),(32,0.6),(32.5,0.58),(33,0.63),(33.5,0.72),(34,0.83),(34.5,1.26),(35,1.17),(35.5,1.1),(36,1.55),(36.5,1.47),(37,1.7),(37.5,1.85),(38,2.1),(38.5,2.2),(39,2.4),(39.5,2.4),(40,2.2),(40.5,2.1),(41,1.7),(41.5,1.55),(42,0.96),(42.5,1.55),(43,2.2),(43.5,2.1),(44,1.85)]
P2_g_red = [(22.1,0.025),(22.2,0.057),(22.5,0.076),(23,0.083),(23.5,0.072),(23.8,0.06),(24.2,0.088),(24.6,0.1),(25,0.1),(25.3,0.066),(25.7,0.057),(26,0.076),(26.5,0.18),(27,0.25),(27.5,0.25),(28,0.27),(28.5,0.3),(29,0.31),(29.5,0.27),(30,0.2),(30.5,0.23),(31,0.23),(31.3,0.16),(32,0.16),(33,0.15),(33.5,0.18),(34,0.23),(34.5,0.34),(35,0.34),(35.5,0.27),(36,0.29),(36.5,0.34),(37,0.27),(37.5,0.23),(38,0.23),(38.5,0.31),(39,0.45),(39.5,0.48),(40,0.45),(40.5,0.36),(41,0.27),(41.5,0.23),(42,0.19),(42.5,0.34),(43,0.5),(43.5,0.48),(44,0.34)]
P2_g_black = [(22.1,0.01),(22.2,0.021),(22.5,0.025),(22.8,0.03),(23.2,0.021),(23.6,0.016),(24,0.012),(24.3,0.023),(24.7,0.021),(25,0.019),(25.3,0.01),(25.6,0.007),(26,0.007),(26.3,0.0106),(26.7,0.021),(27,0.03),(27.5,0.025),(28,0.028),(28.5,0.038),(29,0.04),(29.5,0.033),(30,0.021),(30.3,0.019),(30.7,0.028),(31,0.027),(31.3,0.043),(31.6,0.025),(32,0.026),(33,0.028),(34,0.038),(34.5,0.054),(34.8,0.057),(35.2,0.043),(35.6,0.03),(36,0.033),(36.5,0.033),(37,0.028),(37.5,0.03),(38,0.038),(38.5,0.05),(39,0.047),(39.5,0.047),(40,0.043),(40.5,0.038),(41,0.03),(41.5,0.022),(42,0.014),(42.5,0.028),(43,0.057),(43.5,0.062),(44,0.05)]
P2_g_grey = [(22.1,0.01),(22.3,0.021),(22.6,0.025),(23,0.019),(23.4,0.014),(23.8,0.01),(24,0.008),(24.4,0.014),(24.7,0.019),(25,0.021),(25.3,0.012),(25.6,0.007),(26.2,0.007),(26.5,0.014),(27,0.027),(27.5,0.021),(28,0.025),(28.5,0.03),(29,0.03),(29.5,0.027),(30,0.019),(30.5,0.02),(31,0.021),(31.3,0.03),(31.7,0.021),(32,0.021),(33,0.025),(34,0.036),(34.5,0.053),(35,0.05),(35.5,0.03),(36,0.043),(36.5,0.05),(37,0.057),(37.5,0.076),(38,0.088),(38.5,0.1),(39,0.066),(39.5,0.057),(40,0.05),(40.5,0.05),(41,0.043),(41.5,0.027),(42,0.017),(42.5,0.038),(43,0.066),(43.5,0.057),(44,0.066)]

# event bands (doy) and axis ranges
P1_xlim = (195, 222)
P2_xlim = (17, 44)
P1_bands = [(196.34, 196.68)]
P2_bands = [(21.90, 22.24), (24.35, 24.62)]

TITLES = [("Period I", "(13 Jul. - 9 Aug., 2012)"), ("Period II", "(17 Jan. - 13 Feb., 2012)")]
PANEL_TAGS = ["(a)", "(b)", "(c)", "(d)", "(e)", "(f)", "(g)"]
LEFT_LABELS = [r"$\bar{B}$ (nT)", r"$B$-long. (°)", r"$\bar{\xi}_c^{0,0}$ (%)",
               r"$|\bar{\xi}|$ (%)", r"$\bar{\xi}$-long. (°)", r"$\bar{\gamma}_n$",
               r"$\Lambda_{\parallel}$ (au)"]
RIGHT_LABELS = [r"$\bar{V}_{sw}$ (km/s)", r"$B$-lat. (°)", r"$d\bar{\xi}_c^{0,0}$ (%)",
                None, r"$\bar{\xi}$-lat. (°)", r"$q$", r"$\Lambda_{\parallel}/R_L$"]

# ===================== STYLE =====================
sns.set_style("ticks")
plt.rcParams["font.family"] = ["Liberation Serif", "DejaVu Serif"]
plt.rcParams["mathtext.fontset"] = "stix"
plt.rcParams["axes.linewidth"] = 1.0

RED, BLUE, BLACK, GREY, BAND = "#e3232b", "#3651aa", "#000000", "#a8a8a8", "#f2a089"
W, H = 1146, 854
COL_X = [146.5, 644.0]
COL_W = 435.0
TOP0, PITCH, PH = 40.0, 111.5, 109.5
TICK_FS = 8.5

fig = plt.figure(figsize=(W / 100, H / 100), dpi=100)


def new_ax(col, row):
    top = TOP0 + row * PITCH
    return fig.add_axes([COL_X[col] / W, 1 - (top + PH) / H, COL_W / W, PH / H])


def draw(ax, pairs, color, err=None, marker="+", lw=1.0, ms=3.5):
    xs = [p[0] for p in pairs]
    ys = [p[1] for p in pairs]
    if err:
        ax.errorbar(xs, ys, yerr=err, fmt="none", ecolor=color, elinewidth=0.7,
                    capsize=0, zorder=2, alpha=0.9)
    kw = dict(marker=marker, markersize=ms, markeredgewidth=0.8,
              markeredgecolor=color) if marker else {}
    sns.lineplot(x=xs, y=ys, ax=ax, color=color, linewidth=lw, estimator=None,
                 sort=False, legend=False, zorder=3, **kw)


def hide_top(top, only=None):
    def f(v, pos):
        if top is not None and abs(v - top) <= 1e-6 * max(1.0, abs(top)):
            return ""
        if only is not None and not any(abs(v - o) < 1e-6 for o in only):
            return ""
        return "%g" % v
    return FuncFormatter(f)


def setup_y(ax, lo, hi, major, minor, top_label=False, only=None, log=False):
    if log:
        ax.set_yscale("log")
        ax.set_ylim(lo, hi)
        ax.yaxis.set_major_locator(LogLocator(base=10, numticks=12))
        ax.yaxis.set_minor_locator(LogLocator(base=10, subs=range(2, 10), numticks=60))
        ax.yaxis.set_minor_formatter(NullFormatter())
    else:
        ax.set_ylim(lo, hi)
        ax.yaxis.set_major_locator(FixedLocator(major))
        ax.yaxis.set_minor_locator(MultipleLocator(minor))
    ax.yaxis.set_major_formatter(hide_top(None if top_label else hi, only))


def style_ticks(ax, twin=None, bottom_labels=False):
    ax.tick_params(which="major", direction="in", length=5, width=0.8,
                   labelsize=TICK_FS, pad=4)
    ax.tick_params(which="minor", direction="in", length=2.5, width=0.6)
    ax.tick_params(axis="x", which="both", top=True, bottom=True,
                   labelbottom=bottom_labels, pad=6)
    if twin is None:
        ax.tick_params(axis="y", which="both", left=True, right=True, labelright=False)
    else:
        ax.tick_params(axis="y", which="both", left=True, right=False)
        twin.tick_params(which="major", direction="in", length=5, width=0.8,
                         labelsize=TICK_FS, pad=4)
        twin.tick_params(which="minor", direction="in", length=2.5, width=0.6)
        twin.tick_params(axis="y", which="both", left=False, right=True, labelright=True)


def hline(ax, y):
    ax.axhline(y, color="k", linestyle=(0, (2, 2)), linewidth=0.6, zorder=1.2)


COLUMNS = [
    dict(xlim=P1_xlim, bands=P1_bands,
         a=(P1_a_B, P1_a_dB, P1_a_vsw), b=(P1_b_long, P1_b_lat),
         c=(P1_c_blue, P1_c_red, P1_c_grey), d=(P1_d_black, P1_d_red, P1_d_blue),
         e=(P1_e_long, P1_e_lat), f=(P1_f_black, P1_f_red, P1_f_q),
         g=(P1_g_curve, P1_g_grey, P1_g_black, P1_g_red, P1_g_blue)),
    dict(xlim=P2_xlim, bands=P2_bands,
         a=(P2_a_B, P2_a_dB, P2_a_vsw), b=(P2_b_long, P2_b_lat),
         c=(P2_c_blue, P2_c_red, P2_c_grey), d=(P2_d_black, P2_d_red, P2_d_blue),
         e=(P2_e_long, P2_e_lat), f=(P2_f_black, P2_f_red, P2_f_q),
         g=(P2_g_curve, P2_g_grey, P2_g_black, P2_g_red, P2_g_blue)),
]

for col, C in enumerate(COLUMNS):
    for row in range(7):
        ax = new_ax(col, row)
        twin = None
        if row == 0:
            B, dB, V = C["a"]
            draw(ax, dB, BLACK, err=0.25)
            draw(ax, B, RED, err=0.3)
            twin = ax.twinx()
            draw(twin, V, BLUE, err=4)
            setup_y(ax, 0, 30, [0, 5, 10, 15, 20, 25, 30], 1, top_label=True)
            setup_y(twin, 300, 700, [300, 400, 500, 600, 700], 20, top_label=True)
        elif row == 1:
            lon, lat = C["b"]
            draw(ax, lon, RED, err=11)
            twin = ax.twinx()
            draw(twin, lat, BLUE, err=4)
            setup_y(ax, 0, 360, [0, 90, 180, 270, 360], 30, only=[0, 180])
            setup_y(twin, -90, 90, [-90, -45, 0, 45, 90], 15)
            hline(ax, 180)
        elif row == 2:
            cb, cr, cg = C["c"]
            draw(ax, cb, BLUE, err=0.05)
            draw(ax, cr, RED, err=0.05)
            twin = ax.twinx()
            draw(twin, cg, GREY, err=0.02)
            setup_y(ax, -6, 2, [-6, -4, -2, 0, 2], 0.5)
            setup_y(twin, -1, 3, [-1, 0, 1, 2, 3], 0.25)
        elif row == 3:
            dk, dr, db = C["d"]
            draw(ax, dk, BLACK, err=0.05)
            draw(ax, db, BLUE, err=0.05)
            draw(ax, dr, RED, err=0.05)
            setup_y(ax, 0, 2, [0, 0.5, 1, 1.5, 2], 0.25, only=[0, 1])
        elif row == 4:
            lon, lat = C["e"]
            draw(ax, lon, RED, err=3)
            twin = ax.twinx()
            draw(twin, lat, BLUE, err=2)
            setup_y(ax, 0, 360, [0, 90, 180, 270, 360], 30, only=[0, 180])
            setup_y(twin, -90, 90, [-90, -45, 0, 45, 90], 15)
            hline(ax, 180)
        elif row == 5:
            fk, fr, fq = C["f"]
            draw(ax, fk, BLACK, err=0.09)
            draw(ax, fr, RED, err=0.06)
            twin = ax.twinx()
            draw(twin, fq, BLUE, err=0.05)
            setup_y(ax, -2, 1, [-2, -1, 0, 1], 0.25)
            setup_y(twin, 0, 3, [0, 1, 2, 3], 0.25)
            hline(ax, 0)
            hline(ax, -1)
        else:
            cur, gg, gk, gr, gb = C["g"]
            ax.set_yscale("log")
            draw(ax, cur, BLACK, marker=None, lw=1.0)
            draw(ax, gg, GREY, ms=3)
            draw(ax, gk, BLACK, ms=3)
            draw(ax, gr, RED, ms=3)
            draw(ax, gb, BLUE, ms=3)
            twin = ax.twinx()
            setup_y(ax, 0.01, 100, None, None, log=True)
            setup_y(twin, 1, 1e4, None, None, log=True)
            for yv in (0.1, 1, 10):
                hline(ax, yv)

        # x axis
        ax.set_xlim(*C["xlim"])
        ax.xaxis.set_major_locator(MultipleLocator(5))
        ax.xaxis.set_minor_locator(MultipleLocator(1))
        ax.xaxis.set_major_formatter(FuncFormatter(lambda v, p: "%d" % v))
        ax.grid(True, axis="x", which="major", color="k", linestyle=(0, (2, 2)),
                linewidth=0.6)
        ax.grid(False, axis="y")
        for b0, b1 in C["bands"]:
            ax.axvspan(b0, b1, color=BAND, alpha=0.9, lw=0, zorder=1.1)
        style_ticks(ax, twin, bottom_labels=(row == 6))
        ax.set_xlabel("")
        ax.set_ylabel("")
        if twin is not None:
            twin.set_ylabel("")
            twin.grid(False)

        # axis titles
        if col == 0:
            ax.set_ylabel(LEFT_LABELS[row], fontsize=16)
            ax.yaxis.set_label_coords(-0.093, 0.5)
        else:
            if RIGHT_LABELS[row] is not None and twin is not None:
                twin.set_ylabel(RIGHT_LABELS[row], fontsize=16, rotation=-90,
                                va="center", ha="center")
                twin.yaxis.set_label_coords(1.10, 0.5)
        if row == 6:
            ax.set_xlabel("doy", fontsize=17, va="top")
            ax.xaxis.set_label_coords(0.463 if col == 0 else 0.543, -0.075)

# panel tags
for row, tag in enumerate(PANEL_TAGS):
    yc = TOP0 + row * PITCH + PH / 2
    fig.text(31 / W, 1 - yc / H, tag, fontsize=24, ha="center", va="center")

# titles
for (big, small), xsplit in zip(TITLES, [(322, 329), (807, 813)]):
    fig.text(xsplit[0] / W, 1 - 27 / H, big, fontsize=24, weight="bold",
             ha="right", va="baseline")
    fig.text(xsplit[1] / W, 1 - 27 / H, small, fontsize=16, weight="bold",
             ha="left", va="baseline")

fig.savefig("out.png", dpi=100)
